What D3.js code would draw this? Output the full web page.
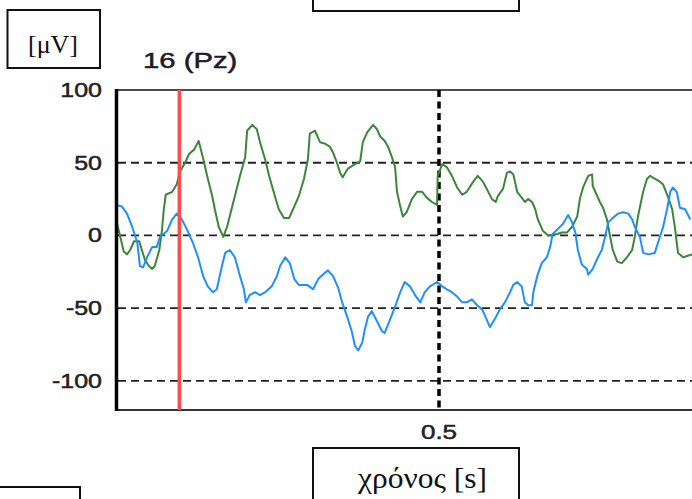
<!DOCTYPE html>
<html><head><meta charset="utf-8">
<script src="https://cdn.jsdelivr.net/npm/d3@7"></script>
<style>body{margin:0;background:#fff}svg{display:block}</style>
</head><body>
<svg id="c" width="692" height="499"></svg>
<script>
// ---- data ----
const yTicks = [100, 50, 0, -50, -100];
const yTickLabels = ["100", "50", "0", "-50", "-100"];
const gridValues = [50, 0, -50, -100];
const xTicks = [0.5];
const xTickLabels = ["0.5"];
const markerTime = 0.098;
const channelTitle = "16 (Pz)";
const yUnitLabel = "[μV]";
const xAxisLabel = "χρόνος [s]";

const greenTime = [0, 0.005, 0.012, 0.017, 0.022, 0.028, 0.036, 0.040, 0.045, 0.051, 0.056, 0.060, 0.067, 0.071, 0.074, 0.077, 0.087, 0.094, 0.099, 0.107, 0.113, 0.121, 0.128,
  0.136, 0.141, 0.149, 0.153, 0.159, 0.166, 0.172, 0.180, 0.192, 0.200, 0.203, 0.211, 0.218, 0.223, 0.231, 0.237, 0.246, 0.252, 0.260, 0.268, 0.276, 0.283, 0.291, 0.297,
  0.300, 0.308, 0.316, 0.324, 0.331, 0.336, 0.342, 0.347, 0.351, 0.359, 0.370, 0.378, 0.382, 0.389, 0.398, 0.404, 0.409, 0.416, 0.421, 0.427, 0.432, 0.435, 0.440, 0.444,
  0.450, 0.458, 0.466, 0.474, 0.481, 0.489, 0.497, 0.498, 0.505, 0.512, 0.520, 0.528, 0.536, 0.543, 0.553, 0.560, 0.568, 0.574, 0.582, 0.588, 0.591, 0.599, 0.605, 0.610,
  0.615, 0.621, 0.628, 0.633, 0.638, 0.644, 0.649, 0.653, 0.661, 0.669, 0.683, 0.690, 0.698, 0.706, 0.714, 0.718, 0.723, 0.731, 0.737, 0.738, 0.745, 0.749, 0.754, 0.760,
  0.765, 0.769, 0.776, 0.783, 0.791, 0.799, 0.803, 0.808, 0.816, 0.822, 0.827, 0.834, 0.842, 0.847, 0.854, 0.861, 0.865, 0.870, 0.878, 0.885, 0.892];
const greenValue = [11, 2, -11, -13, -10, -4, -4, -10, -17, -21, -23, -21, -10, 3, 18, 28, 30, 35, 44, 50, 56, 59, 65,
  51, 41, 27, 18, 6, -1, 6, 20, 41, 54, 72, 76, 73, 64, 52, 41, 27, 18, 12, 12, 20, 27, 39, 52,
  70, 72, 64, 63, 61, 57, 50, 43, 40, 46, 49, 51, 64, 71, 76, 73, 68, 65, 61, 54, 47, 30, 20, 13,
  16, 25, 30, 30, 26, 23, 21, 41, 49, 47, 41, 33, 28, 30, 37, 41, 37, 32, 25, 23, 27, 32, 43, 44,
  42, 30, 26, 23, 25, 23, 18, 11, 3, 0, 1, 2, 2, 6, 13, 25, 33, 41, 42, 34, 27, 23, 19, 11,
  -1, -10, -18, -19, -15, -10, -1, 13, 30, 39, 41, 39, 37, 35, 27, 18, 6, -12, -15, -14, -13];

const blueTime = [0, 0.009, 0.017, 0.025, 0.033, 0.037, 0.042, 0.048, 0.056, 0.063, 0.068, 0.079, 0.087, 0.094, 0.102, 0.110, 0.119, 0.127, 0.135, 0.142, 0.150,
  0.156, 0.164, 0.169, 0.176, 0.184, 0.192, 0.198, 0.201, 0.207, 0.215, 0.223, 0.231, 0.241, 0.249, 0.254, 0.262, 0.269, 0.276, 0.283, 0.296, 0.305, 0.313, 0.320, 0.328,
  0.336, 0.344, 0.350, 0.358, 0.365, 0.370, 0.375, 0.381, 0.385, 0.390, 0.396, 0.404, 0.412, 0.416, 0.424, 0.432, 0.440, 0.447, 0.455, 0.463, 0.471, 0.478, 0.486, 0.497,
  0.505, 0.512, 0.520, 0.528, 0.536, 0.543, 0.551, 0.559, 0.567, 0.574, 0.579, 0.587, 0.594, 0.602, 0.610, 0.615, 0.621, 0.628, 0.633, 0.638, 0.644, 0.646, 0.652, 0.659,
  0.667, 0.672, 0.676, 0.683, 0.692, 0.700, 0.706, 0.711, 0.715, 0.721, 0.729, 0.731, 0.738, 0.746, 0.752, 0.757, 0.762, 0.769, 0.777, 0.785, 0.793, 0.799, 0.803, 0.811,
  0.816, 0.824, 0.834, 0.839, 0.847, 0.853, 0.858, 0.862, 0.868, 0.873, 0.881, 0.889];
const blueValue = [21, 20, 15, 6, -5, -21, -22, -15, -8, -8, -1, 3, 11, 15, 11, 4, -5, -15, -28, -35, -39,
  -37, -21, -12, -10, -15, -28, -37, -46, -41, -39, -41, -39, -35, -28, -21, -15, -19, -30, -34, -34, -37, -30, -27, -24,
  -28, -36, -46, -56, -66, -76, -79, -74, -65, -56, -52, -59, -66, -67, -58, -49, -39, -32, -35, -41, -46, -39, -35, -32,
  -35, -37, -39, -42, -46, -46, -44, -48, -51, -58, -63, -57, -51, -46, -39, -34, -32, -35, -46, -48, -48, -39, -28, -19,
  -15, -8, 1, 4, 8, 14, 9, 2, -10, -20, -23, -27, -23, -15, -10, -1, 9, 12, 15, 16, 15, 11, 6, -1,
  -12, -13, -12, -5, 6, 18, 30, 33, 30, 19, 18, 11];

// ---- layout ----
const svg = d3.select("#c");
const x = d3.scaleLinear().domain([0, 0.9]).range([116, 697.4]);
const y = d3.scaleLinear().domain([-120, 100]).range([410, 90]);
const sans = "'Liberation Sans', Arial, sans-serif";
const serif = "'Liberation Serif', 'Times New Roman', serif";

// boxes
function box(x0, y0, w, h) {
  svg.append("rect").attr("x", x0).attr("y", y0).attr("width", w).attr("height", h)
    .attr("fill", "none").attr("stroke", "#111").attr("stroke-width", 2);
}
box(7.5, 10, 92.5, 58);
box(313, -20, 206, 31);
box(313, 448, 206, 80);
box(-10, 487, 90, 40);

// grid
svg.append("g").selectAll("line").data(gridValues).join("line")
  .attr("x1", 118).attr("x2", 692).attr("y1", d => y(d)).attr("y2", d => y(d))
  .attr("stroke", "#222").attr("stroke-width", 1.8).attr("stroke-dasharray", "8,5");

// vertical dotted at x ticks
svg.append("g").selectAll("line").data(xTicks).join("line")
  .attr("x1", d => x(d)).attr("x2", d => x(d)).attr("y1", y(100)).attr("y2", y(-120))
  .attr("stroke", "#000").attr("stroke-width", 3.5).attr("stroke-dasharray", "7,4.5");

// frame lines
svg.append("line").attr("x1", 116).attr("x2", 692).attr("y1", 90).attr("y2", 90)
  .attr("stroke", "#111").attr("stroke-width", 1.6);
svg.append("line").attr("x1", 116).attr("x2", 692).attr("y1", 410).attr("y2", 410)
  .attr("stroke", "#333").attr("stroke-width", 2);

// series
const line = d3.line().x(d => x(d[0])).y(d => y(d[1]));
svg.append("path").datum(d3.zip(greenTime, greenValue)).attr("d", line)
  .attr("fill", "none").attr("stroke", "#3a873a").attr("stroke-width", 2).attr("stroke-linejoin", "round");
svg.append("path").datum(d3.zip(blueTime, blueValue)).attr("d", line)
  .attr("fill", "none").attr("stroke", "#1e8fff").attr("stroke-width", 2).attr("stroke-linejoin", "round");

// marker line
svg.append("line").attr("x1", x(markerTime)).attr("x2", x(markerTime)).attr("y1", y(100)).attr("y2", y(-120))
  .attr("stroke", "#ff4b4b").attr("stroke-width", 3.5);

// left axis
svg.append("line").attr("x1", 116.5).attr("x2", 116.5).attr("y1", 89).attr("y2", 411)
  .attr("stroke", "#000").attr("stroke-width", 3.5);

// texts
function stretchedText(tx, ty, str, size, anchor, sx, family, fill) {
  svg.append("text").attr("transform", `translate(${tx},${ty}) scale(${sx},1)`)
    .attr("text-anchor", anchor).attr("font-family", family).attr("font-size", size)
    .attr("fill", fill).attr("stroke", fill).attr("stroke-width", 0.5).text(str);
}
yTicks.forEach((v, i) => stretchedText(102, y(v) + 7, yTickLabels[i], 20, "end", 1.25, sans, "#222"));
xTicks.forEach((v, i) => stretchedText(x(v), 439, xTickLabels[i], 20, "middle", 1.3, sans, "#222"));
stretchedText(143, 68, channelTitle, 22, "start", 1.33, sans, "#221828");

svg.append("text").attr("x", 53).attr("y", 53).attr("text-anchor", "middle")
  .attr("font-family", serif).attr("font-size", 26).attr("fill", "#111")
  .attr("textLength", 50).attr("lengthAdjust", "spacingAndGlyphs").text(yUnitLabel);
svg.append("text").attr("x", 358).attr("y", 488)
  .attr("font-family", serif).attr("font-size", 30).attr("fill", "#111")
  .attr("textLength", 129).attr("lengthAdjust", "spacingAndGlyphs").text(xAxisLabel);
</script>
</body></html>
